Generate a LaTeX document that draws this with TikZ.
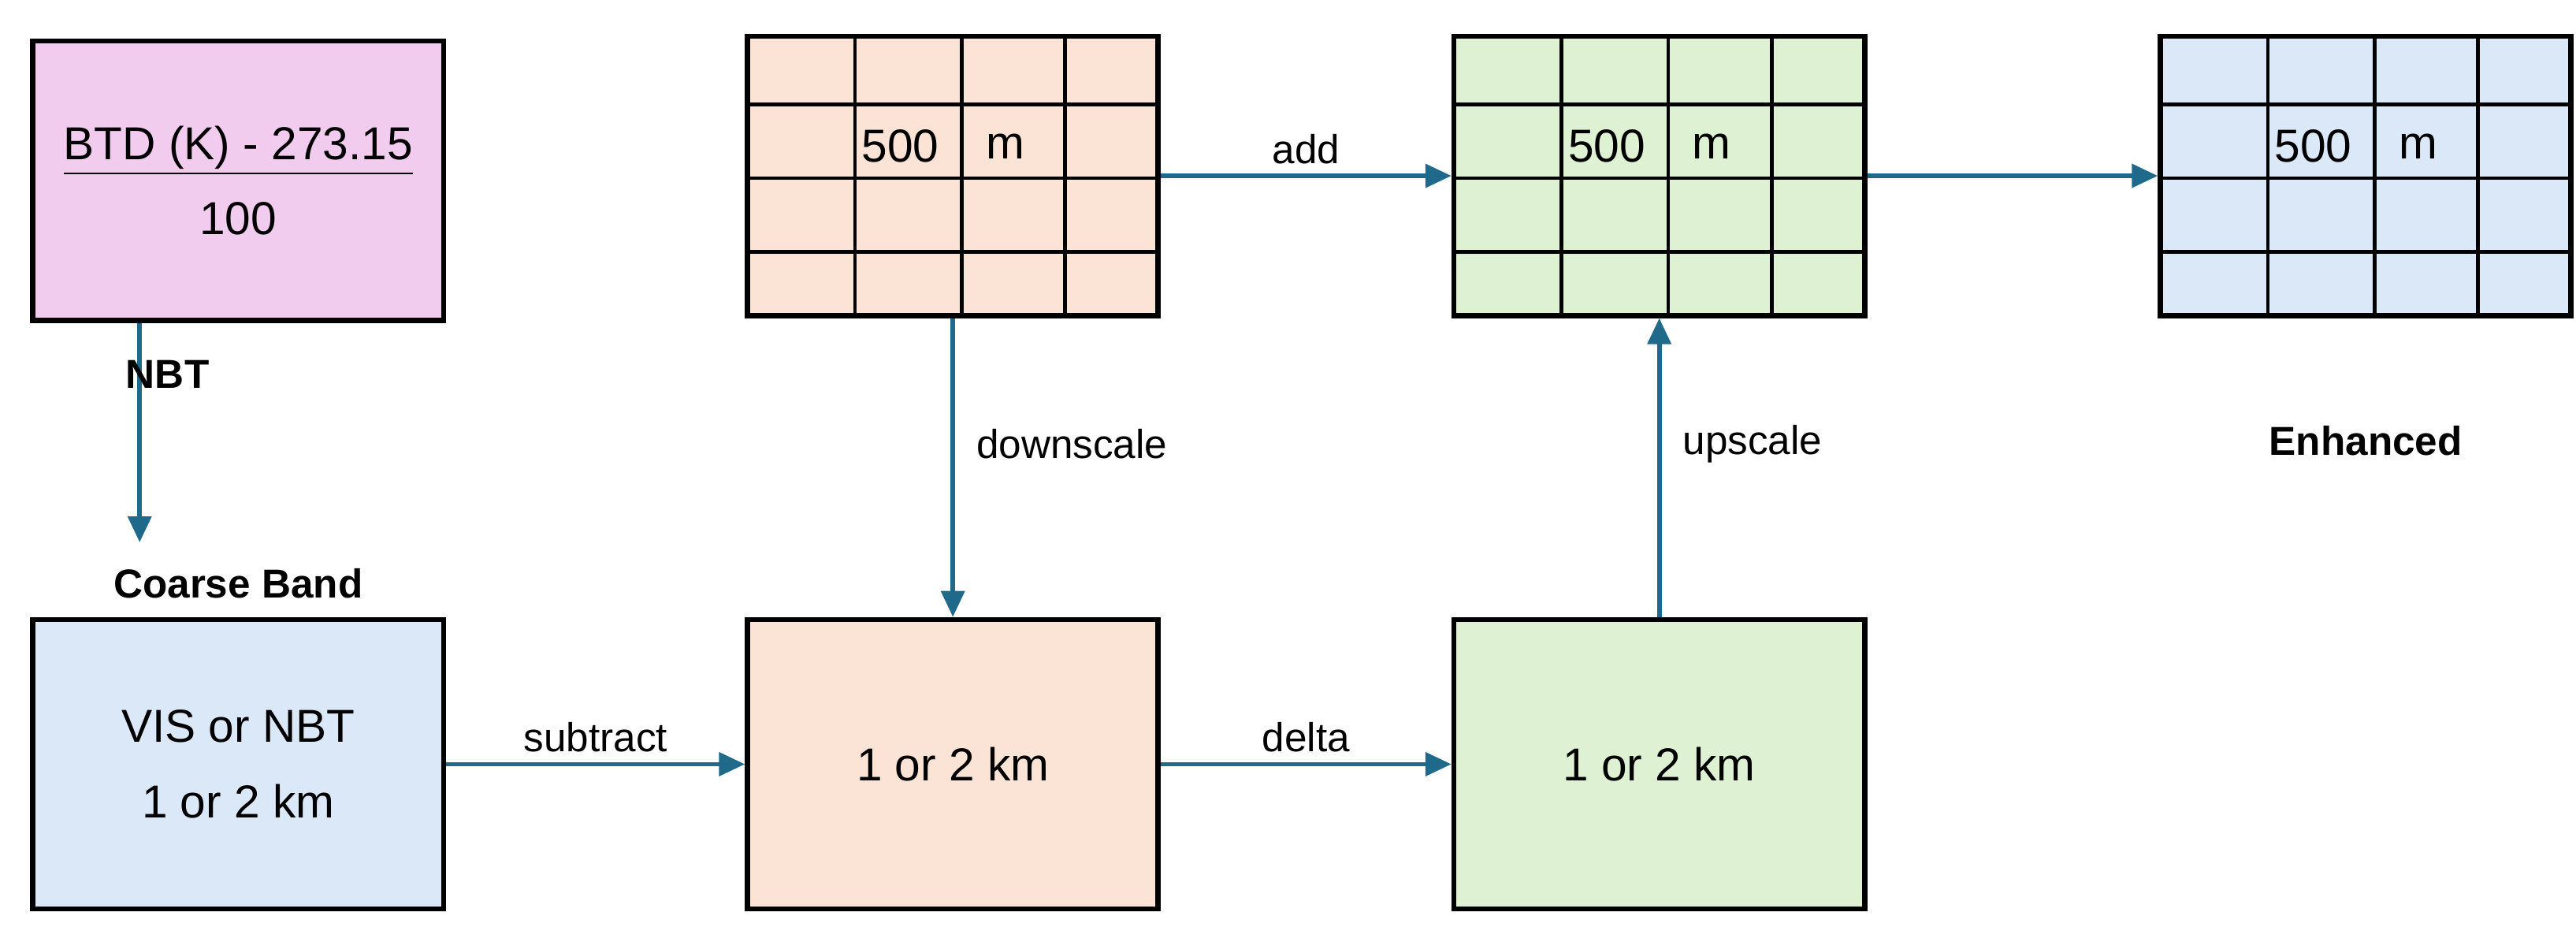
\documentclass[tikz,border=0pt]{standalone}
\usepackage{fontspec}
\setmainfont{Liberation Sans}
\usetikzlibrary{arrows.meta}
\definecolor{pinkc}{HTML}{F2CCEE}
\definecolor{peachc}{HTML}{FBE3D6}
\definecolor{greenc}{HTML}{DEF2D3}
\definecolor{bluec}{HTML}{DAE8F7}
\definecolor{arr}{HTML}{1F6A8A}
\begin{document}
\begin{tikzpicture}[x=0.02cm,y=-0.02cm,
  box/.style={draw=black,line width=1.8pt,minimum width=5cm,minimum height=3.4cm,inner sep=0,font=\fontsize{16}{20}\selectfont,align=center},
  grd/.style={line width=1.3pt},
  con/.style={draw=arr,line width=1.6pt,-{Triangle[length=9pt,width=8pt]}},
  lab/.style={font=\fontsize{14}{17}\selectfont},
  blab/.style={font=\bfseries\fontsize{14}{17}\selectfont}]
\useasboundingbox (0,0) rectangle (1568,573);
\node[box,fill=pinkc] (pk) at (145,110) {\underline{BTD (K) - 273.15}\\[6pt]100};
\node[box,fill=peachc] (tp) at (580,107) {};
\node[box,fill=greenc] (tg) at (1010,107) {};
\node[box,fill=bluec] (tb) at (1440,107) {};
\foreach \n in {tp,tg,tb}{
  \draw[grd] ([xshift=1.34cm]\n.north west) -- ([xshift=1.34cm]\n.south west);
  \draw[grd] ([xshift=2.64cm]\n.north west) -- ([xshift=2.64cm]\n.south west);
  \draw[grd] ([xshift=3.9cm]\n.north west) -- ([xshift=3.9cm]\n.south west);
  \draw[grd] ([yshift=-0.86cm]\n.north west) -- ([yshift=-0.86cm]\n.north east);
  \draw[grd] ([yshift=-1.76cm]\n.north west) -- ([yshift=-1.76cm]\n.north east);
  \draw[grd] ([yshift=-2.66cm]\n.north west) -- ([yshift=-2.66cm]\n.north east);
  \node[font=\fontsize{16}{20}\selectfont] (\n a) at ([xshift=-0.64cm,yshift=0.36cm]\n.center) {500};
  \node[font=\fontsize{16}{20}\selectfont] (\n b) at ([xshift=0.64cm,yshift=0.36cm]\n.center) {m};
}
\node[box,fill=bluec,minimum height=3.52cm] (bb) at (145,465) {VIS or NBT\\[6pt]1 or 2 km};
\node[box,fill=peachc,minimum height=3.52cm] (bp) at (580,465) {1 or 2 km};
\node[box,fill=greenc,minimum height=3.52cm] (bg) at (1010,465) {1 or 2 km};
\coordinate (nbtend) at (85,330);
\draw[con] (pk.south -| nbtend) -- (nbtend);
\node[blab] (nbt) at (102,228) {NBT};
\node[blab] (cb) at (145,355) {Coarse Band};
\node[blab] (enh) at (1440,268) {Enhanced};
\draw[con] (tp) -- node[lab,right,pos=0.42,xshift=4pt] {downscale} (bp);
\draw[con] (bg) -- node[lab,right,pos=0.58,xshift=4pt] {upscale} (tg);
\draw[con] (bb) -- node[lab,above] {subtract} (bp);
\draw[con] (bp) -- node[lab,above] {delta} (bg);
\draw[con] (tp) -- node[lab,above] {add} (tg);
\draw[con] (tg) -- (tb);
\end{tikzpicture}
\end{document}
